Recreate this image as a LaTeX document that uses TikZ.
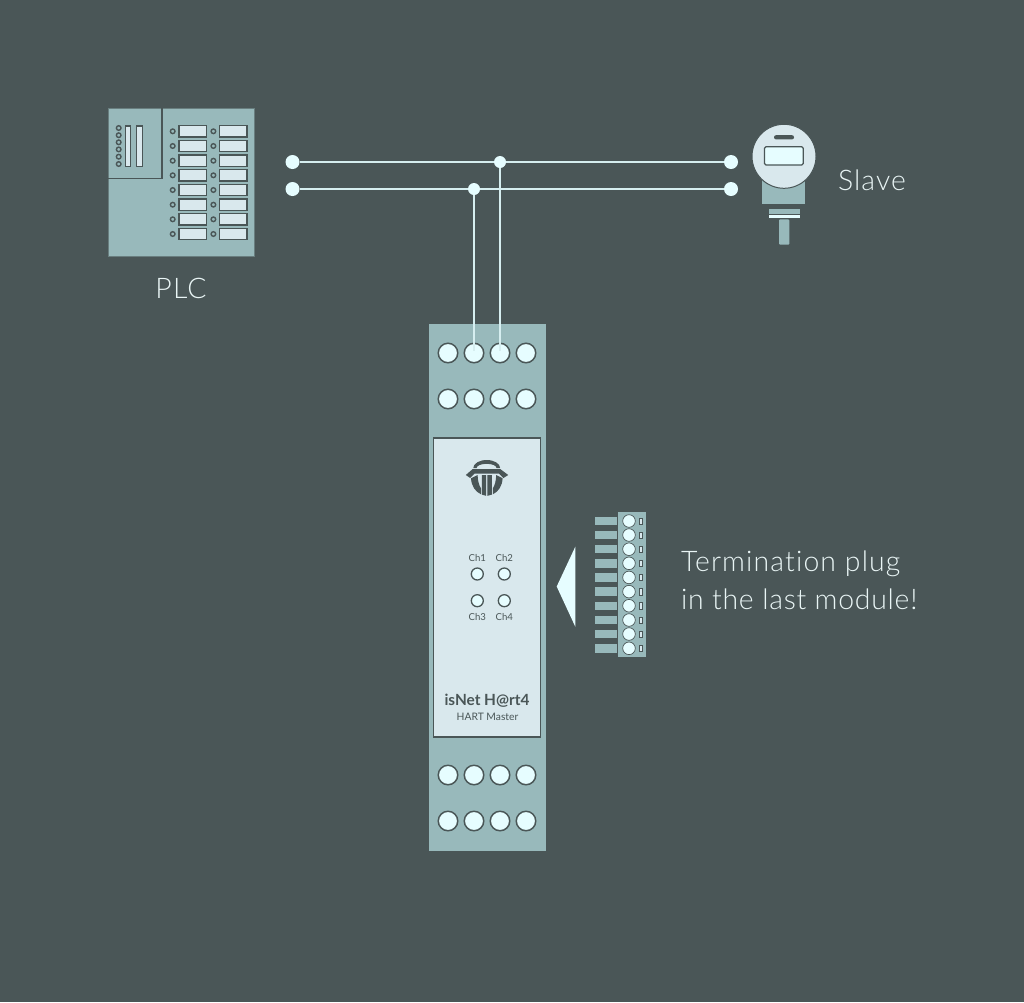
\documentclass[tikz,border=0pt]{standalone}
\usepackage{fontspec}
\setmainfont{Lato}[UprightFont=* Light,BoldFont=* Bold]
\newfontfamily\lblfont{Lato}[LetterSpace=4.0,UprightFont=* Light,Ligatures=NoCommon]
\newfontfamily\lblfonttight{Lato}[LetterSpace=2.6,UprightFont=* Light,Ligatures=NoCommon]
\newfontfamily\smallfont{Lato}[BoldFont=* Bold]
\definecolor{bgc}{HTML}{4A5657}
\definecolor{bodyc}{HTML}{98B9BB}
\definecolor{panelc}{HTML}{D9E8ED}
\definecolor{termc}{HTML}{E6FDFF}
\definecolor{wirec}{HTML}{D6EEF0}
\definecolor{textc}{HTML}{E9F5F5}
\begin{document}
\begin{tikzpicture}[x=1pt,y=-1pt,
  every node/.style={inner sep=0pt,outer sep=0pt},
  wirestyle/.style={draw=wirec,line width=2pt},
  enddot/.style={circle,fill=termc,minimum size=14pt},
  junction/.style={circle,fill=termc,minimum size=12pt},
  terminal/.style={circle,draw=bgc,line width=1.5pt,fill=termc,minimum size=19.5pt},
  anchorpt/.style={circle,fill=termc,minimum size=5pt},
  led/.style={circle,draw=bgc,line width=1.3pt,fill=termc,minimum size=12pt},
  plcdot/.style={circle,draw=bgc,line width=1.4pt,fill=bodyc,minimum size=4.6pt},
  plcslot/.style={draw=bgc,line width=1.4pt,fill=panelc},
  plugterm/.style={circle,draw=bgc,line width=.7pt,fill=termc,minimum size=12.6pt},
  plugpin/.style={fill=bodyc},
  biglabel/.style={text=textc,font=\lblfont\fontsize{28.4}{34}\selectfont},
  biglabeltight/.style={text=textc,font=\lblfonttight\fontsize{28.4}{34}\selectfont},
  chlabel/.style={text=bgc,font=\smallfont\fontsize{9.6}{11}\selectfont}
]
\useasboundingbox (0,0) rectangle (1024,1002);
\fill[bgc] (0,0) rectangle (1024,1002);

% PLC
\draw[fill=bodyc,draw=bgc!60!bodyc,line width=.8pt] (108,108) rectangle (254.3,256.8);
\draw[bgc,line width=1.5pt] (108,178.6) -| (162,108);
\foreach \yy in {128,135.2,142.3,149.4,156.7,164} \node[plcdot] at (118.7,\yy) {};
\draw[plcslot] (125.4,126) rectangle (130.5,166.4);
\draw[plcslot] (136.6,126) rectangle (142.3,166.4);
\foreach \yy in {131.3,146,160.7,175.3,190,204.7,219.3,234} {
  \node[plcdot] at (172.7,\yy) {};
  \node[plcdot] at (213.4,\yy) {};
  \draw[plcslot] (179,\yy-5.6) rectangle (206.5,\yy+5.6);
  \draw[plcslot] (219.6,\yy-5.6) rectangle (247.1,\yy+5.6);
}
\node[biglabel] (plclabel) at (181,288) {PLC};

% Slave
\fill[bodyc] (762.3,180) rectangle (805.3,204);
\draw[bgc,line width=.8pt] (762.3,204) -- (805.3,204);
\draw[fill=panelc,draw=bgc,line width=1pt] (784,156.3) circle (32);
\draw[fill=termc,draw=bgc,line width=1.3pt,rounded corners=1.5pt] (764.5,146.7) rectangle (803.2,165);
\fill[bgc,rounded corners=2pt] (774,135.2) rectangle (794,139.4);
\fill[bodyc] (768.7,209) rectangle (800,213.8);
\fill[termc] (768.7,214.8) rectangle (800,218.2);
\fill[bodyc,rounded corners=1pt] (779,219.4) rectangle (789.3,244.7);
\node[biglabel,anchor=base west] (slavelabel) at (838,190) {Slave};

% Module body
\fill[bodyc] (429,324) rectangle (546,851);
\draw[fill=panelc,draw=bgc,line width=1.3pt] (433.8,438) rectangle (540.2,737);
\foreach \nm/\xx in {a/448,b/474,c/500,d/526} {
  \node[terminal] (t1\nm) at (\xx,353) {};
  \node[terminal] (t2\nm) at (\xx,399) {};
  \node[terminal] (t3\nm) at (\xx,775) {};
  \node[terminal] (t4\nm) at (\xx,821) {};
}

% Logo
\fill[bgc] (473.3,468) arc[start angle=180,end angle=360,x radius=13.4,y radius=8]
   -- (496.6,468) arc[start angle=360,end angle=180,x radius=10,y radius=4.2] -- cycle;
\fill[bgc] (465.8,475) -- (472.5,469.2) -- (500.5,469.2) -- (508.2,475) -- (503.5,478) -- (499,473.6) -- (474.5,473.6) -- (470.2,478) -- cycle;
\fill[bgc] (471,478.3) -- (477.6,475) .. controls (477.8,481) and (479,485.5) .. (481,488.3) -- (481,494.3) .. controls (475,491.5) and (471.5,486) .. (471,478.3) -- cycle;
\fill[bgc] (502.6,478.3) -- (496.2,475) .. controls (496,481) and (494.8,485.5) .. (492.8,488.3) -- (492.8,494.3) .. controls (498.6,491.5) and (502.2,486) .. (502.6,478.3) -- cycle;
\fill[bgc] (481.8,475) -- (486.2,475) -- (486.2,495.8) -- (481.8,494.6) -- cycle;
\fill[bgc] (487.4,475) -- (491.9,475) -- (491.9,494.6) -- (487.4,495.8) -- cycle;

% Channel LEDs
\node[led] (ch1) at (477.3,574) {};
\node[led] (ch2) at (504.3,574) {};
\node[led] (ch3) at (477.3,600.7) {};
\node[led] (ch4) at (504.3,600.7) {};
\node[chlabel] (l1) at (477.3,557.5) {Ch1};
\node[chlabel] (l2) at (504.3,557.5) {Ch2};
\node[chlabel] (l3) at (477.3,617) {Ch3};
\node[chlabel] (l4) at (504.3,617) {Ch4};
\node[text=bgc,font=\smallfont\bfseries\fontsize{15.4}{18}\selectfont] (title) at (487,700.5) {isNet H@rt4};
\node[text=bgc,font=\smallfont\fontsize{10.3}{12}\selectfont] (subtitle) at (487.5,716.5) {HART Master};

% Wires
\node[enddot] (w1l) at (292.5,162) {};
\node[enddot] (w2l) at (292.5,189) {};
\node[enddot] (w1r) at (731,162) {};
\node[enddot] (w2r) at (731,189) {};
\node[junction] (j1) at (500,162) {};
\node[junction] (j2) at (474,189) {};
\node[anchorpt] (p1) at (t1c) {};
\node[anchorpt] (p2) at (t1b) {};
\draw[wirestyle] (w1l) -- (j1) -- (w1r);
\draw[wirestyle] (w2l) -- (j2) -- (w2r);
\draw[wirestyle] (j1) -- (p1);
\draw[wirestyle] (j2) -- (p2);

% Termination plug
\fill[bodyc] (618,512.4) rectangle (646,656.6);
\foreach \yy in {521,535,549.2,563.3,577.4,591.6,605.7,620,634,648.3} {
  \fill[plugpin] (594.7,\yy-4.2) rectangle (617.3,\yy+4.2);
  \node[plugterm] at (629,\yy) {};
  \draw[fill=panelc,draw=bgc,line width=.5pt] (639.2,\yy-3.2) rectangle (642.6,\yy+3.2);
}
\fill[termc] (556.7,586.5) -- (575.3,546.7) -- (575.3,626.7) -- cycle;
\node[biglabel,anchor=base west] (term1) at (681,571.8) {Termination plug};
\node[biglabeltight,anchor=base west] (term2) at (681,609.8) {in the last module!};
\end{tikzpicture}
\end{document}
